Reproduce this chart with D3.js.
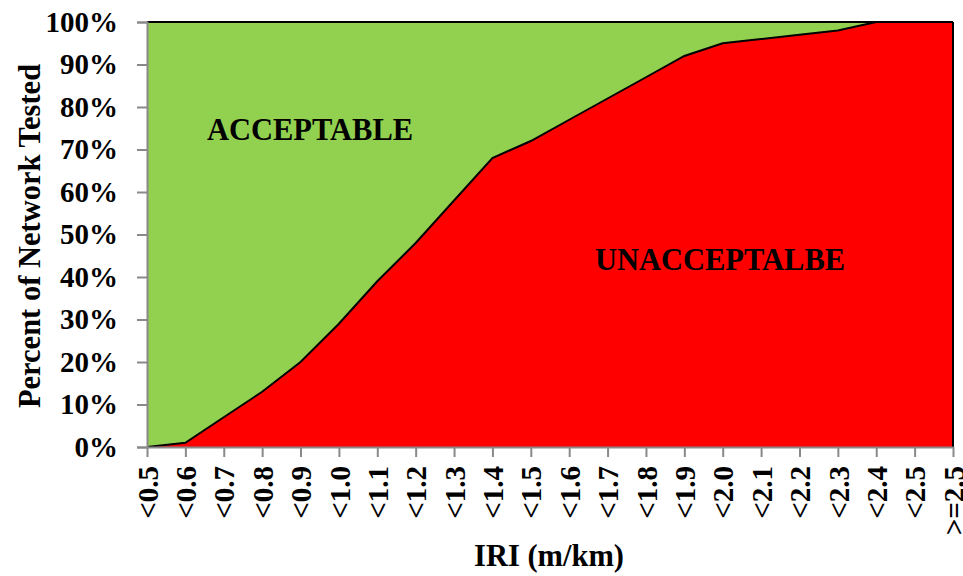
<!DOCTYPE html>
<html>
<head>
<meta charset="utf-8">
<script src="https://cdn.jsdelivr.net/npm/d3@7"></script>
<style>
  html, body { margin: 0; padding: 0; background: #fff; }
  svg { display: block; }
  text { font-family: "Liberation Serif", "Times New Roman", serif; font-weight: bold; fill: #000; }
</style>
</head>
<body>
<svg id="chart" width="963" height="576"></svg>
<script>
// IRI class limits along the x axis
const categories = ["<0.5","<0.6","<0.7","<0.8","<0.9","<1.0","<1.1","<1.2","<1.3","<1.4","<1.5",
                    "<1.6","<1.7","<1.8","<1.9","<2.0","<2.1","<2.2","<2.3","<2.4","<2.5",">=2.5"];
// Cumulative share of network (%) that is unacceptable at each limit
const unacceptable = [0, 1, 7, 13, 20, 29, 39, 48, 58, 68, 72, 77, 82, 87, 92, 95, 96, 97, 98, 100, 100, 100];
const yTicks = [0, 10, 20, 30, 40, 50, 60, 70, 80, 90, 100];

const svg = d3.select("#chart");
const m = { left: 147, right: 953, top: 22, bottom: 447 };

const x = d3.scalePoint().domain(categories).range([m.left, m.right]);
const y = d3.scaleLinear().domain([0, 100]).range([m.bottom, m.top]);

const GREEN = "#92D050", RED = "#FF0000", AXIS = "#898989";

// Acceptable share fills from the curve up to 100%
const areaAcc = d3.area()
  .x(d => x(d.c)).y0(d => y(d.v)).y1(y(100));
const areaUn = d3.area()
  .x(d => x(d.c)).y0(y(0)).y1(d => y(d.v));
const rows = categories.map((c, i) => ({ c, v: unacceptable[i] }));

svg.append("path").datum(rows).attr("d", areaAcc).attr("fill", GREEN);
svg.append("path").datum(rows).attr("d", areaUn).attr("fill", RED);

// Outline: boundary curve, plus the top and right edges of the stack
svg.append("path").datum(rows)
  .attr("d", d3.line().x(d => x(d.c)).y(d => y(d.v)))
  .attr("fill", "none").attr("stroke", "#000").attr("stroke-width", 2);
svg.append("line")
  .attr("x1", m.left).attr("x2", m.right).attr("y1", y(100)).attr("y2", y(100))
  .attr("stroke", "#000").attr("stroke-width", 2);
svg.append("line")
  .attr("x1", m.right).attr("x2", m.right).attr("y1", y(100)).attr("y2", y(0))
  .attr("stroke", "#000").attr("stroke-width", 2);

// Y axis
const yAxis = svg.append("g").attr("transform", `translate(${m.left},0)`)
  .call(d3.axisLeft(y).tickValues(yTicks).tickFormat(d => d + "%").tickSize(10).tickPadding(19));
yAxis.select(".domain").attr("stroke", AXIS).attr("stroke-width", 2);
yAxis.selectAll(".tick line").attr("stroke", AXIS).attr("stroke-width", 2);
yAxis.selectAll(".tick text")
  .attr("font-family", "Liberation Serif, Times New Roman, serif")
  .attr("font-weight", "bold").attr("font-size", 29).attr("fill", "#000");

// X axis with vertical labels
const xAxis = svg.append("g").attr("transform", `translate(0,${m.bottom})`)
  .call(d3.axisBottom(x).tickSize(10).tickSizeOuter(0));
xAxis.select(".domain").attr("stroke", AXIS).attr("stroke-width", 2);
xAxis.selectAll(".tick line").attr("stroke", AXIS).attr("stroke-width", 2);
xAxis.selectAll(".tick text")
  .attr("font-family", "Liberation Serif, Times New Roman, serif")
  .attr("font-weight", "bold").attr("font-size", 29).attr("fill", "#000")
  .attr("text-anchor", "end")
  .attr("transform", "rotate(-90)")
  .attr("x", -19).attr("y", 0).attr("dy", "0.35em");

// Axis titles
svg.append("text")
  .attr("x", 549).attr("y", 566)
  .attr("text-anchor", "middle").attr("font-size", 30.5)
  .text("IRI (m/km)");
svg.append("text")
  .attr("transform", "translate(40,236) rotate(-90)")
  .attr("text-anchor", "middle").attr("font-size", 30.5)
  .text("Percent of Network Tested");

// Region labels
svg.append("text")
  .attr("x", 310).attr("y", 140)
  .attr("text-anchor", "middle").attr("font-size", 30.5)
  .text("ACCEPTABLE");
svg.append("text")
  .attr("x", 720).attr("y", 270)
  .attr("text-anchor", "middle").attr("font-size", 30.5)
  .text("UNACCEPTALBE");
</script>
</body>
</html>
